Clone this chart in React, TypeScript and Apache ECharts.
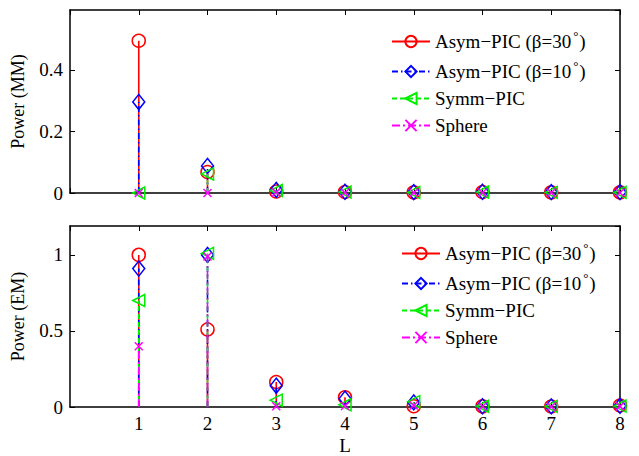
import React, { useEffect, useRef } from "react";
import * as echarts from "echarts";

const L = [1, 2, 3, 4, 5, 6, 7, 8];
const seriesNames = ["Asym−PIC (β=30°)", "Asym−PIC (β=10°)", "Symm−PIC", "Sphere"];
const xTicks = [1, 2, 3, 4, 5, 6, 7, 8];
const mmTicks = [0, 0.2, 0.4];
const emTicks = [0, 0.5, 1];

const mmAsym30 = [0.495, 0.068, 0.005, 0.003, 0.002, 0.003, 0.002, 0.002];
const mmAsym10 = [0.296, 0.088, 0.01, 0.004, 0.003, 0.004, 0.003, 0.003];
const mmSymm = [0, 0.062, 0.008, 0.003, 0.002, 0.003, 0.002, 0.002];
const mmSphere = [0, 0, 0.002, 0.001, 0.001, 0.001, 0.001, 0.001];

const emAsym30 = [1.0, 0.51, 0.164, 0.064, 0.005, 0.004, 0.003, 0.01];
const emAsym10 = [0.91, 1.0, 0.14, 0.055, 0.03, 0.005, 0.004, 0.008];
const emSymm = [0.7, 1.01, 0.045, 0.015, 0.035, 0.005, 0.004, 0.006];
const emSphere = [0.4, 0.99, 0.005, 0.007, 0.01, 0.003, 0.002, 0.004];

const FONT = "'Liberation Serif', 'DejaVu Serif', serif";
const FS = 19;

const styles = [
  { color: "#ff0000", symbol: "circle", size: 13, rotate: 0, dash: "solid" as any },
  { color: "#0000ff", symbol: "diamond", size: [12, 15], rotate: 0, dash: [6, 3, 1.5, 3] },
  { color: "#00ee00", symbol: "triangle", size: 12, rotate: 90, dash: [5, 3] },
  { color: "#ff00ff", symbol: "path://M0 0L10 10M10 0L0 10", size: 8, rotate: 0, dash: [8, 3, 2, 3] },
];

function stemData(vals: number[]) {
  const out: any[] = [];
  vals.forEach((v, i) => {
    out.push({ value: [L[i], 0], symbol: "none" });
    out.push({ value: [L[i], v] });
    out.push({ value: [L[i], "-"] });
  });
  return out;
}

function makeSeries(vals: number[], k: number, axisIdx: number) {
  const s = styles[k];
  return {
    type: "line",
    name: seriesNames[k],
    xAxisIndex: axisIdx,
    yAxisIndex: axisIdx,
    data: stemData(vals),
    connectNulls: false,
    symbol: s.symbol,
    symbolSize: s.size,
    symbolRotate: s.rotate,
    color: s.color,
    lineStyle: { color: s.color, width: 1.6, type: s.dash },
    itemStyle: { color: "rgba(0,0,0,0)", borderColor: s.color, borderWidth: 1.5 },
    emphasis: { disabled: true },
    z: 2 + k,
  };
}

function xAx(grid: number, pos: string, labels: boolean) {
  return {
    type: "value",
    gridIndex: grid,
    position: pos,
    min: 0,
    max: 8,
    interval: 1,
    splitLine: { show: false },
    axisLine: { onZero: false, lineStyle: { color: "#000", width: 1.5 } },
    axisTick: { inside: true, length: 5, lineStyle: { color: "#000", width: 1 } },
    axisLabel: {
      show: labels,
      showMinLabel: false,
      color: "#000",
      fontFamily: FONT,
      fontSize: FS,
      margin: 7,
      formatter: (v: number) => (xTicks.includes(v) ? String(v) : ""),
    },
    ...(labels
      ? {
          name: "L",
          nameLocation: "middle",
          nameGap: 29,
          nameTextStyle: { color: "#000", fontFamily: FONT, fontSize: FS },
        }
      : {}),
  };
}

function yAx(grid: number, pos: string, labels: boolean, max: number, interval: number, ticks: number[], name: string) {
  return {
    type: "value",
    gridIndex: grid,
    position: pos,
    min: 0,
    max,
    interval,
    splitLine: { show: false },
    axisLine: { onZero: false, lineStyle: { color: "#000", width: 1.5 } },
    axisTick: { inside: true, length: 5, lineStyle: { color: "#000", width: 1 } },
    axisLabel: {
      show: labels,
      showMaxLabel: false,
      color: "#000",
      fontFamily: FONT,
      fontSize: FS,
      margin: 7,
      formatter: (v: number) => (ticks.some((t) => Math.abs(t - v) < 1e-9) ? String(v) : ""),
    },
    ...(labels
      ? {
          name,
          nameLocation: "middle",
          nameGap: 43,
          nameTextStyle: { color: "#000", fontFamily: FONT, fontSize: 18 },
        }
      : {}),
  };
}

function legend(left: number, top: number) {
  return {
    orient: "vertical",
    left,
    top,
    itemWidth: 38,
    itemHeight: 14,
    itemGap: 8,
    selectedMode: false,
    data: seriesNames,
    textStyle: {
      color: "#000",
      fontFamily: FONT,
      fontSize: FS,
      rich: {
        deg: { fontSize: 13, fontFamily: FONT, color: "#000", padding: [0, 1, 12, 2] },
        t: { fontSize: FS, fontFamily: FONT, color: "#000" },
      },
    },
    formatter: (name: string) => {
      if (name.includes("°")) {
        const [a, b] = name.split("°");
        return "{t|" + a + "}{deg|°}{t|" + b + "}";
      }
      return name;
    },
  };
}

export default function App() {
  const ref = useRef<HTMLDivElement>(null);
  useEffect(() => {
    const chart = echarts.init(ref.current!, undefined, { renderer: "svg" });
    const option: any = {
      animation: false,
      backgroundColor: "#fff",
      grid: [
        { left: 70, top: 10, width: 550, height: 183 },
        { left: 70, top: 226, width: 550, height: 183 },
      ],
      xAxis: [xAx(0, "bottom", false), xAx(0, "top", false), xAx(1, "bottom", true), xAx(1, "top", false)],
      yAxis: [
        yAx(0, "left", true, 0.595, 0.2, mmTicks, "Power (MM)"),
        yAx(0, "right", false, 0.595, 0.2, mmTicks, ""),
        yAx(1, "left", true, 1.19, 0.5, emTicks, "Power (EM)"),
        yAx(1, "right", false, 1.19, 0.5, emTicks, ""),
      ],
      legend: [legend(386, 24), legend(396, 236)],
      series: [
        makeSeries(mmAsym30, 0, 0),
        makeSeries(mmAsym10, 1, 0),
        makeSeries(mmSymm, 2, 0),
        makeSeries(mmSphere, 3, 0),
        makeSeries(emAsym30, 0, 2),
        makeSeries(emAsym10, 1, 2),
        makeSeries(emSymm, 2, 2),
        makeSeries(emSphere, 3, 2),
      ],
    };
    chart.setOption(option);
    return () => chart.dispose();
  }, []);
  return <div ref={ref} style={{ position: "fixed", left: 0, top: 0, width: 639, height: 456 }} />;
}
